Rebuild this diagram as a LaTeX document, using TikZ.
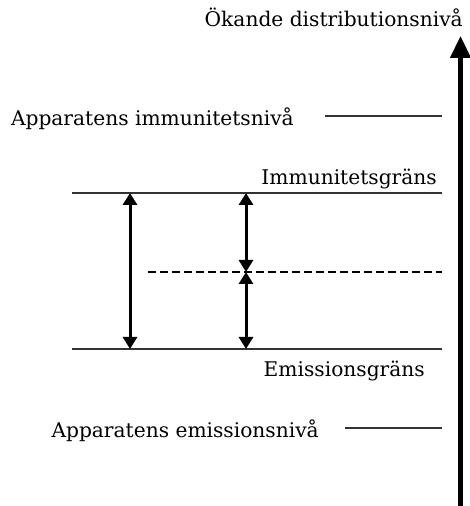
\documentclass[tikz,border=0pt]{standalone}
\usepackage{fontspec}
\setmainfont{DejaVu Serif}
\usepackage{tikz}
\usetikzlibrary{
  arrows.meta,  % Triangle 箭头
  positioning   % 节点相对定位
}
\tikzset{
  level line/.style={
    line width=1.5pt,
    color=black!80
  },
  margin line/.style={
    {Triangle[length=12pt,width=14pt]}-{Triangle[length=12pt,width=14pt]},
    line width=3pt
  },
  dashed level/.style={
    line width=2.2pt,
    dash pattern=on 8pt off 4pt
  },
  level label/.style={
    inner sep=0pt,
    anchor=base east,
    font=\fontsize{20.2}{24}\selectfont
  }
}

\begin{document}
\begin{tikzpicture}[x=1pt, y=1pt, >={Triangle[length=22pt,width=20pt]}]
  \useasboundingbox (0,0) rectangle (469,506);
  % 设定水平线的左右端
  \def\xL{72}
  \def\xR{442}

  % ==== 1. 右侧纵轴 ====
  \coordinate (axis bottom) at (460.5,0);
  \coordinate (axis top) at (460.5,470);
  \draw[->, line width=4.5pt] (axis bottom) -- (axis top);
  \node[level label] (title) at (463,479) {Ökande distributionsnivå};

  % ==== 2. 设备的抗扰度与发射水平 ====
  \coordinate (immlev L) at (325,390);
  \coordinate (immlev R) at (\xR,390);
  \draw[level line] (immlev L) -- (immlev R);
  \node[level label] (immlev text) at (294,380) {Apparatens immunitetsnivå};

  \coordinate (emilev L) at (345,78);
  \coordinate (emilev R) at (\xR,78);
  \draw[level line] (emilev L) -- (emilev R);
  \node[level label] (emilev text) at (319,68) {Apparatens emissionsnivå};

  % ==== 3. 限值线 ====
  \coordinate (imm L) at (\xL,313);
  \coordinate (imm R) at (\xR,313);
  \draw[level line] (imm L) -- (imm R);
  \node[level label] (imm text) at (437,321) {Immunitetsgräns};

  \coordinate (emi L) at (\xL,157);
  \coordinate (emi R) at (\xR,157);
  \draw[level line] (emi L) -- (emi R);
  \node[level label] (emi text) at (425,129) {Emissionsgräns};

  % 中间的虚线
  \coordinate (mid L) at (148,234);
  \coordinate (mid R) at (\xR,234);
  \draw[dashed level] (mid L) -- (mid R);

  % ==== 4. 双向箭头 ====
  \coordinate (a top) at (130,313);
  \coordinate (a bot) at (130,157);
  \draw[margin line] (a top) -- (a bot);

  \coordinate (b top) at (246,313);
  \coordinate (b mid) at (246,234);
  \coordinate (b bot) at (246,157);
  \draw[margin line] (b top) -- (b mid);
  \draw[margin line] (b mid) -- (b bot);

\end{tikzpicture}
\end{document}
